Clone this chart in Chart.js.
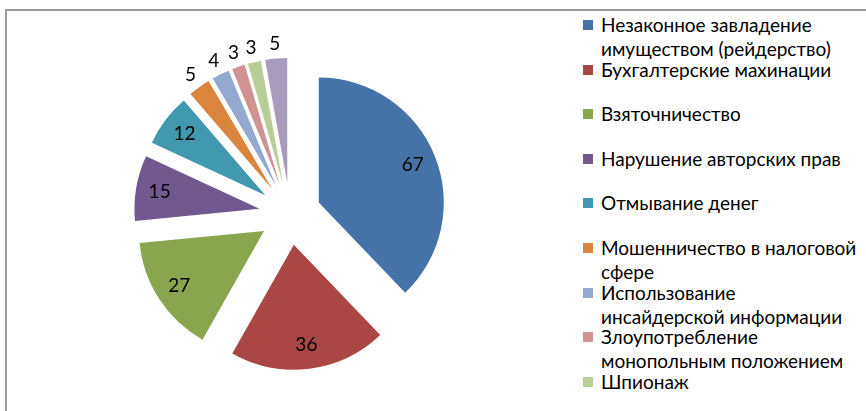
<!DOCTYPE html>
<html>
<head>
<meta charset="utf-8">
<script src="https://cdn.jsdelivr.net/npm/chart.js@4.4.1/dist/chart.umd.min.js"></script>
<style>
    body { margin: 0; background: #fff; width: 866px; height: 411px; overflow: hidden; position: relative; font-family: Lato, sans-serif; }
    #frame { position: absolute; left: 5px; top: 9px; width: 880px; height: 430px; border-top: 2px solid #9c9c9c; border-left: 2px solid #9c9c9c; }
    #wrap { position: absolute; left: 0; top: 0; width: 580px; height: 411px; }
    #legend { position: absolute; left: 583px; top: 0; width: 283px; }
    .item { position: absolute; left: 0; font-size: 19px; line-height: 24px; color: #000; white-space: pre-line; padding-left: 18px; }
    .item span { position: absolute; left: 0; top: 7px; width: 10px; height: 10px; }
</style>
</head>
<body>
<div id="frame"></div>
<div id="wrap"><canvas id="pie-chart" width="580" height="411"></canvas></div>
<div id="legend"></div>

<script>
const labels = [
    'Незаконное завладение\nимуществом (рейдерство)',
    'Бухгалтерские махинации',
    'Взяточничество',
    'Нарушение авторских прав',
    'Отмывание денег',
    'Мошенничество в налоговой\nсфере',
    'Использование\nинсайдерской информации',
    'Злоупотребление\nмонопольным положением',
    'Шпионаж',
    'Другое'
]
const values = [67, 36, 27, 15, 12, 5, 4, 3, 3, 5]
const colors = [
    '#4572A7', '#AA4643', '#89A54E', '#71588F', '#4198AF',
    '#DB843D', '#93A9CF', '#D19392', '#B9CD96', '#A99BBD'
]

const explode = 31

// pull every slice out from the centre, like the exploded pie in excel
const explodePlugin = {
    id: 'explode',
    beforeDatasetDraw(chart, args) {
        const ctx = chart.ctx
        args.meta.data.forEach(arc => {
            const mid = (arc.startAngle + arc.endAngle) / 2
            ctx.save()
            ctx.translate(Math.cos(mid) * explode, Math.sin(mid) * explode)
            arc.draw(ctx)
            ctx.restore()
        })
        return false
    }
}

// value labels: inside big slices, outside small ones
const sliceLabels = {
    id: 'sliceLabels',
    afterDatasetsDraw(chart) {
        const ctx = chart.ctx
        const meta = chart.getDatasetMeta(0)
        ctx.save()
        ctx.font = '19px Lato'
        ctx.fillStyle = '#000'
        ctx.textAlign = 'center'
        ctx.textBaseline = 'middle'
        meta.data.forEach((arc, i) => {
            const mid = (arc.startAngle + arc.endAngle) / 2
            const r = arc.outerRadius
            const dist = values[i] >= 10 ? explode + r * 0.81 : explode + r * 1.12
            ctx.fillText(values[i], arc.x + Math.cos(mid) * dist, arc.y + Math.sin(mid) * dist)
        })
        ctx.restore()
    }
}

const ctx = document.getElementById('pie-chart')
const pieChart = new Chart(ctx, {
    type: 'pie',
    data: {
        labels: labels,
        datasets: [{
            data: values,
            backgroundColor: colors,
            borderWidth: 0
        }]
    },
    options: {
        responsive: false,
        animation: false,
        layout: { padding: { left: 165, top: 89, right: 165, bottom: 72 } },
        plugins: {
            legend: { display: false },
            tooltip: { enabled: false }
        }
    },
    plugins: [explodePlugin, sliceLabels]
})

let htmlLegend = ''
for (let index = 0; index < labels.length; index++) {
    htmlLegend += `<div class="item" style="top:${13 + index * 44.6}px"><span style="background:${colors[index]}"></span>${labels[index]}</div>`
}
document.querySelector('#legend').innerHTML = htmlLegend
</script>
</body>
</html>
